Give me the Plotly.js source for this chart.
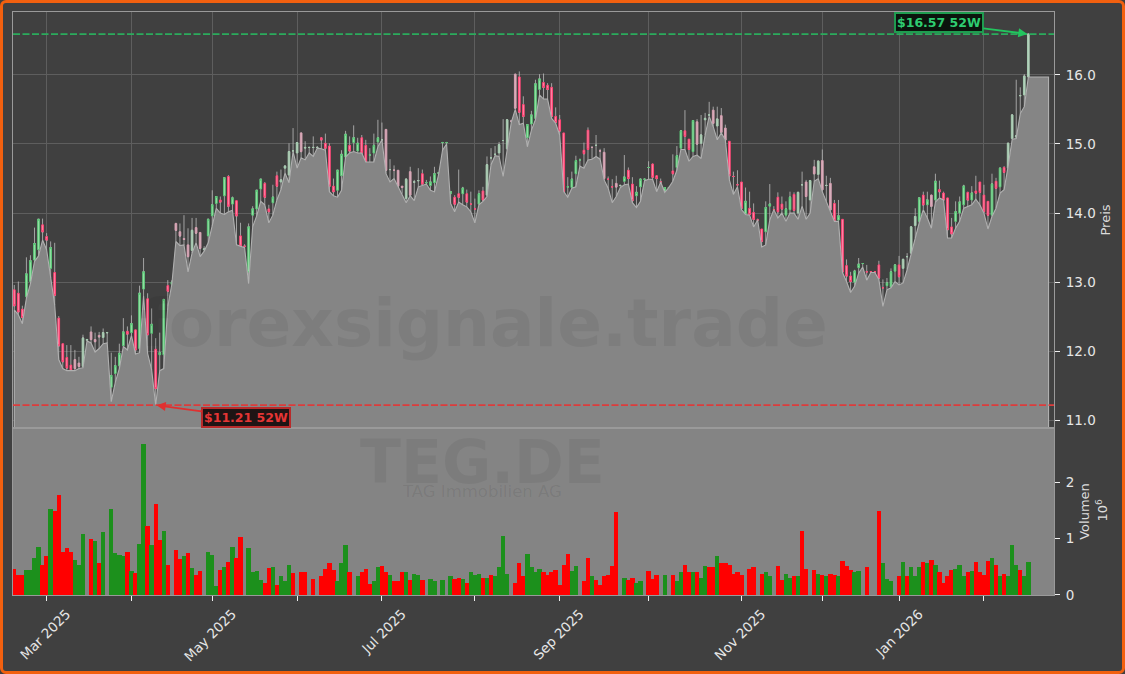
<!DOCTYPE html>
<html><head><meta charset="utf-8">
<script src="https://cdn.plot.ly/plotly-3.0.1.min.js"></script>
<style>
html,body{margin:0;padding:0;background:#404040;width:1125px;height:674px;overflow:hidden}
#chart{position:absolute;left:0;top:0;width:1125px;height:674px}
#frame{position:absolute;left:0;top:0;width:1125px;height:674px;box-sizing:border-box;border:3px solid #f2600f;border-radius:6px;pointer-events:none}
</style></head><body>
<div id="chart"></div><div id="frame"></div>
<script>
const open_=[12.89,12.84,12.61,12.79,13.01,13.32,13.47,13.83,13.66,13.20,
13.14,12.48,12.11,11.91,11.80,11.88,11.83,11.78,12.16,12.28,
12.17,12.23,12.20,12.27,11.48,11.68,11.79,12.08,12.29,12.27,
12.31,12.04,12.90,12.76,12.26,12.03,11.95,11.95,12.95,12.97,
13.85,13.73,13.63,13.54,13.46,13.79,13.72,13.47,13.67,13.96,
14.14,14.19,14.25,14.53,14.13,14.18,13.67,13.52,13.15,13.97,
14.06,14.35,14.43,14.06,14.15,14.54,14.45,14.65,14.55,14.90,
14.87,15.16,14.94,14.95,14.95,14.95,15.09,15.01,14.97,14.39,
14.33,14.54,14.81,14.98,15.02,14.90,15.09,14.98,14.84,14.87,
15.03,15.06,15.21,14.63,14.62,14.62,14.39,14.21,14.60,14.45,
14.47,14.57,14.44,14.40,14.44,14.58,15.02,15.02,14.28,14.23,
14.28,14.28,14.28,14.13,14.06,14.13,14.32,14.26,14.80,14.85,
14.87,15.05,14.93,15.33,16.01,15.97,15.57,15.09,15.29,15.37,
15.79,15.89,15.85,15.82,15.40,15.35,15.16,14.38,14.37,14.57,
14.77,14.91,15.20,14.95,14.98,14.90,14.88,14.49,14.38,14.43,
14.40,14.46,14.62,14.42,14.25,14.38,14.49,14.66,14.71,14.54,
14.45,14.30,14.37,14.61,14.66,14.94,15.19,15.07,14.89,15.32,
15.01,15.35,15.42,15.49,15.26,15.41,15.23,15.04,14.53,14.41,
14.45,13.99,14.07,14.01,13.90,13.77,13.73,14.10,14.05,14.23,
14.13,13.97,14.05,14.27,14.00,14.41,14.45,14.19,14.67,14.56,
14.76,14.40,14.43,14.14,13.90,13.91,13.24,13.09,13.00,13.21,
13.27,13.15,13.15,13.15,13.25,12.92,12.95,12.93,13.16,13.25,
13.20,13.37,13.42,13.82,13.88,14.26,14.12,14.26,14.19,14.34,
14.29,14.22,13.80,13.88,14.00,14.12,14.30,14.19,14.32,14.45,
14.26,14.17,13.97,14.46,14.38,14.66,14.65,15.08,15.10,15.70,
15.71,15.97];
const high_=[12.96,13.01,12.66,13.36,13.39,13.79,13.91,13.92,13.71,13.59,
13.57,12.51,12.11,12.09,12.09,12.02,11.92,12.24,12.18,12.36,
12.27,12.28,12.33,12.28,11.98,11.92,12.11,12.48,12.36,12.52,
12.31,12.95,13.35,12.84,12.62,12.19,12.27,12.76,13.03,13.03,
13.86,13.85,13.97,13.78,13.93,13.93,13.72,13.52,13.91,14.33,
14.24,14.24,14.51,14.55,14.24,14.18,13.86,13.55,13.85,14.10,
14.33,14.49,14.45,14.12,14.41,14.60,14.63,14.68,15.01,15.23,
15.02,15.17,15.04,14.96,15.11,14.97,15.10,15.15,15.01,14.50,
14.62,14.91,15.19,15.11,15.27,15.09,15.13,15.06,14.94,15.15,
15.35,15.31,15.22,14.78,14.69,14.62,14.39,14.50,14.67,14.48,
14.65,14.63,14.48,14.53,14.67,14.59,15.03,15.03,14.32,14.26,
14.63,14.38,14.34,14.31,14.21,14.33,14.38,14.82,14.94,14.97,
15.03,15.36,15.35,15.35,16.02,16.05,15.69,15.28,15.48,15.93,
16.01,16.02,15.88,15.88,15.53,15.42,15.16,14.52,14.60,14.83,
14.79,15.02,15.24,14.97,15.13,14.93,14.94,14.53,14.49,14.54,
14.41,14.84,14.66,14.52,14.39,14.50,14.50,14.75,14.72,14.55,
14.50,14.37,14.38,14.85,14.97,15.20,15.49,15.07,15.34,15.36,
15.42,15.45,15.61,15.54,15.54,15.52,15.28,15.04,14.60,14.62,
14.45,14.37,14.31,14.14,13.92,13.77,14.17,14.42,14.10,14.30,
14.24,14.17,14.31,14.30,14.30,14.60,14.48,14.48,14.77,14.76,
14.92,14.54,14.51,14.19,14.19,13.91,13.33,13.15,13.18,13.35,
13.27,13.25,13.16,13.16,13.31,13.04,13.06,13.20,13.25,13.38,
13.33,13.42,13.80,14.07,14.22,14.31,14.31,14.27,14.57,14.47,
14.31,14.22,13.93,14.17,14.24,14.41,14.31,14.39,14.54,14.45,
14.41,14.17,14.57,14.51,14.65,14.68,15.01,15.42,15.93,15.82,
16.01,16.59];
const low_=[12.60,12.53,12.40,12.77,12.98,13.30,13.38,13.61,13.47,13.06,
12.67,11.88,11.75,11.72,11.72,11.72,11.75,11.76,12.15,12.12,
11.99,12.04,12.11,12.12,11.27,11.55,11.75,12.07,12.02,12.23,
11.96,11.98,12.80,11.97,11.73,11.22,11.72,11.75,12.65,12.97,
13.59,13.53,13.54,13.15,13.42,13.57,13.37,13.45,13.57,13.81,
14.07,14.00,13.98,14.02,14.04,13.54,13.52,13.50,12.98,13.80,
13.96,14.17,14.12,13.86,13.97,14.19,14.34,14.58,14.44,14.89,
14.65,14.80,14.77,14.87,14.82,14.94,14.93,14.91,14.31,14.25,
14.23,14.33,14.81,14.87,14.89,14.87,14.87,14.74,14.74,14.74,
14.96,15.06,14.57,14.45,14.50,14.38,14.28,14.15,14.25,14.18,
14.38,14.40,14.42,14.33,14.31,14.55,14.91,15.00,14.14,14.02,
14.16,14.12,14.09,14.02,13.86,14.12,14.17,14.24,14.70,14.83,
14.82,14.53,14.91,15.31,15.50,15.28,15.30,14.96,15.20,15.35,
15.71,15.65,15.65,15.37,15.30,15.13,14.31,14.23,14.36,14.38,
14.68,14.65,14.77,14.78,14.82,14.78,14.48,14.36,14.15,14.24,
14.37,14.41,14.42,14.15,14.08,14.17,14.47,14.49,14.49,14.31,
14.45,14.30,14.37,14.46,14.62,14.92,14.92,14.75,14.82,14.84,
14.79,15.13,15.40,15.25,15.06,15.16,15.06,14.48,14.27,14.38,
14.05,13.98,13.97,13.80,13.90,13.51,13.54,13.90,14.05,13.93,
14.00,13.88,14.00,14.00,13.91,14.10,13.91,14.00,14.46,14.50,
14.31,14.17,14.02,13.88,13.88,13.14,13.01,12.85,12.94,13.13,
13.22,13.03,13.14,13.14,13.04,12.65,12.89,12.92,13.01,12.96,
12.99,13.18,13.41,13.64,13.86,14.05,13.93,13.78,14.16,14.22,
14.19,13.64,13.64,13.78,13.88,14.07,14.09,14.12,14.20,14.12,
14.00,13.77,13.95,14.07,14.29,14.34,14.68,15.07,15.08,15.44,
15.54,15.97];
const close_=[12.66,12.57,12.49,13.12,13.31,13.56,13.91,13.73,13.61,13.50,
12.81,12.08,11.85,11.76,11.73,11.75,11.78,12.19,12.17,12.17,
12.14,12.21,12.27,12.27,11.65,11.79,11.97,12.28,12.25,12.40,
12.02,12.84,13.15,12.24,12.39,11.46,11.98,12.75,12.87,13.00,
13.75,13.67,13.62,13.37,13.75,13.71,13.49,13.48,13.91,14.12,
14.24,14.16,14.51,14.10,14.22,13.96,13.52,13.52,13.80,14.06,
14.33,14.49,14.23,14.02,14.23,14.39,14.48,14.68,14.89,14.90,
15.02,14.89,14.95,14.95,14.95,14.95,15.06,14.94,14.39,14.31,
14.62,14.85,15.14,14.90,15.09,15.01,14.87,14.74,14.84,14.98,
15.09,15.06,14.62,14.63,14.62,14.39,14.37,14.49,14.26,14.45,
14.47,14.42,14.44,14.45,14.57,14.58,15.02,15.02,14.31,14.13,
14.23,14.36,14.16,14.13,14.06,14.28,14.19,14.70,14.80,14.85,
14.99,15.05,15.35,15.33,15.52,15.46,15.40,15.28,15.42,15.87,
15.94,15.82,15.79,15.40,15.31,15.19,14.31,14.38,14.49,14.76,
14.77,14.86,14.92,14.95,14.98,14.90,14.50,14.49,14.38,14.38,
14.40,14.52,14.50,14.18,14.30,14.49,14.49,14.66,14.52,14.50,
14.45,14.37,14.37,14.57,14.83,15.19,15.11,14.92,15.34,15.00,
15.13,15.37,15.42,15.30,15.36,15.17,15.06,14.54,14.53,14.41,
14.07,14.17,13.98,13.91,13.90,13.59,14.08,14.13,14.05,14.02,
14.06,14.06,14.23,14.04,14.30,14.41,14.24,14.47,14.57,14.75,
14.34,14.40,14.05,13.89,13.96,13.15,13.09,13.01,13.16,13.26,
13.27,13.15,13.15,13.15,13.06,12.92,12.99,13.15,13.25,13.08,
13.33,13.37,13.80,13.95,14.22,14.12,14.19,14.10,14.46,14.31,
14.19,13.76,13.70,14.02,14.16,14.39,14.19,14.29,14.29,14.30,
14.02,13.97,14.42,14.36,14.65,14.59,15.01,15.42,15.12,15.70,
15.98,16.59];
const volume=[.46,.36,.36,.44,.44,.65,.85,.53,.70,1.52,
1.50,1.78,.76,.83,.76,.63,.53,1.08,0,.99,
.96,.56,1.12,0,1.52,.74,.71,.69,.76,.43,
.39,.90,2.68,1.22,.89,1.61,.98,1.13,.53,0,
.80,.64,.70,.75,.48,.36,.43,0,.76,.71,
.16,.44,.50,.59,.85,.66,1.03,0,.83,.41,
.43,.27,.21,.48,.50,.18,.34,.25,.54,.39,
0,.40,.41,0,.29,0,.34,.47,.57,.45,
.25,.57,.88,.41,0,.33,.41,.47,.20,.25,
.50,.52,.41,.36,.25,.25,.40,.40,.27,.38,
.36,.27,0,.29,.25,0,.27,0,.33,.29,
.31,.29,.22,.40,.36,.38,.31,.31,.36,.34,
.49,1.05,.38,0,.22,.56,.34,.73,.50,.41,
.47,.41,.36,.40,.45,.18,.54,.72,.43,.52,
0,.24,.66,.33,.27,.18,.33,.36,.52,1.48,
0,.31,.27,.31,.22,.24,0,.43,.29,.36,
0,.36,0,.36,.24,.41,.54,.41,.40,.40,
.31,.52,.50,.49,.70,.56,.57,.54,.38,.41,
.36,0,.47,.50,0,.38,.41,.33,0,.52,
.27,.38,.31,.33,.34,1.14,.47,0,.45,.38,
.36,.33,.38,.36,.33,.61,.52,.45,.40,.43,
0,.49,0,0,1.50,.57,.29,.25,0,.34,
.59,.34,.49,.33,.50,.59,.57,.63,.54,.40,
.22,.33,.45,.47,.54,.34,.41,.43,.59,.41,
.36,.61,.65,.54,.33,.38,.34,.89,.54,.45,
.34,.59];
const volumeSide=("rrrggggrrgrrrrrgggrrgrgrggggrgrggrgrrgrrrrgrgrrrgg"+
"grgrgrrrggggrrgrgggr"+"rrrrrrrrrrgggrrgrrrggrrgrrrgrg"+"grrggrgrgr"+"rgrgggrgrg"+
"gggrrrrggg"+"grrrrrrrgg"+"rrrgrrrrrr"+"rgrrggrrrr"+"rgrrggrrgr"+"ggrrgrrrrr"+
"rrrrrrggrr"+"rggrgrrrrg"+"rgrrgrrrgg"+"rrrrrgggrr"+"grgggrgrgr"+"rrrgggrgrr"+"rrgrgrgggr"+"gg").split('');
const tailLow=[15.97,15.97,15.97,15.97,15.97];
const paleRanges=[[15,23],[40,47],[66,75],[91,100],[117,124],[143,146],[149,150],[169,176],[194,202],[220,223],[227,227],[246,251]];
const tickIndex=[8,29,49,70,91,114,135,157,180,200,219,240];
const tickLabels=['Mar 2025','','May 2025','','Jul 2025','','Sep 2025','','Nov 2025','','Jan 2026',''];
const priceTicks=[11,12,13,14,15,16];
const volumeTicks=[0,1,2];
const high52=16.59, low52=11.22;
const priceFloor=10.895;

const idx=open_.map((_,i)=>i);
const isPale=i=>paleRanges.some(r=>i>=r[0]&&i<=r[1]);
const allLow=low_.concat(tailLow);
const allIdx=allLow.map((_,i)=>i);
const last=allIdx[allIdx.length-1];

const areaTrace={type:'scatter',mode:'lines',x:allIdx.concat([last,0,0]),y:allLow.concat([priceFloor,priceFloor,allLow[0]]),
 fill:'toself',fillcolor:'#858585',line:{color:'#b0b0b0',width:1.1},hoverinfo:'skip',showlegend:false,xaxis:'x',yaxis:'y'};
const wickTrace={type:'candlestick',x:idx,open:close_,close:close_,high:high_,low:low_,whiskerwidth:0,
 increasing:{line:{color:'#bcbcbc',width:0.8},fillcolor:'#bcbcbc'},decreasing:{line:{color:'#bcbcbc',width:0.8},fillcolor:'#bcbcbc'},
 hoverinfo:'skip',showlegend:false,xaxis:'x',yaxis:'y'};
function bodyTrace(sel,upLine,upFill,downLine,downFill){
 const ii=idx.filter(sel);
 return {type:'candlestick',x:ii,open:ii.map(i=>open_[i]),close:ii.map(i=>close_[i]),
  high:ii.map(i=>Math.max(open_[i],close_[i])),low:ii.map(i=>Math.min(open_[i],close_[i])),whiskerwidth:0,
  increasing:{line:{color:upLine,width:1},fillcolor:upFill},decreasing:{line:{color:downLine,width:1},fillcolor:downFill},
  showlegend:false,xaxis:'x',yaxis:'y'};
}
const bodyA=bodyTrace(i=>!isPale(i),'#5cc878','#a8e6b4','#ff4474','#ff9ab5');
const bodyB=bodyTrace(isPale,'#a4c9ae','#bcd4c2','#d59fb0','#d9b4c0');
const volumeTrace={type:'bar',x:idx,y:volume,marker:{color:volumeSide.map(s=>s==='r'?'#ff0000':'#1c901c'),line:{width:0}},width:1.08,
 showlegend:false,xaxis:'x2',yaxis:'y2'};

const txt='#e6e6e6', font='"DejaVu Sans",sans-serif';
const xr=[-0.32,257.35];
const axisBase={linecolor:'#9a9a9a',linewidth:1,showline:true,mirror:true,zeroline:false};
const layout={
 width:1125,height:674,paper_bgcolor:'#404040',plot_bgcolor:'#404040',
 margin:{l:13,r:71,t:12,b:79,pad:0},showlegend:false,bargap:0,barmode:'overlay',boxgap:0.4,
 font:{family:font,color:txt,size:13},
 xaxis:Object.assign({},axisBase,{domain:[0,1],range:xr,anchor:'y',rangeslider:{visible:false},tickmode:'array',tickvals:tickIndex,ticktext:tickIndex.map(()=>''),
   showgrid:true,gridcolor:'#5e5e5e',gridwidth:1,ticks:''}),
 xaxis2:Object.assign({},axisBase,{domain:[0,1],range:xr,anchor:'y2',tickmode:'array',tickvals:tickIndex,ticktext:tickLabels,tickangle:-45,
   ticklabeloverflow:'allow',ticklabelshift:20,
   showgrid:false,ticks:'outside',ticklen:5,tickcolor:'#f0f0f0',tickfont:{size:13.5,color:txt,family:font}}),
 yaxis:Object.assign({},axisBase,{domain:[0.28645,1],range:[10.89,16.91],side:'right',anchor:'x',tickmode:'array',tickvals:priceTicks,ticktext:priceTicks.map(v=>v.toFixed(1)),
   showgrid:true,gridcolor:'#5e5e5e',gridwidth:1,ticks:'outside',ticklen:5,ticklabelstandoff:3,tickcolor:'#f0f0f0',tickfont:{size:13.5,color:txt,family:font},
   title:{text:'Preis',font:{size:13,color:'#dcdcdc',family:font},standoff:6}}),
 yaxis2:Object.assign({},axisBase,{domain:[0,0.28645],range:[0,2.966],side:'right',anchor:'x2',tickmode:'array',tickvals:volumeTicks,ticktext:volumeTicks.map(String),
   showgrid:false,ticks:'outside',ticklen:5,ticklabelstandoff:3,tickcolor:'#f0f0f0',tickfont:{size:13.5,color:txt,family:font},
   title:{text:'Volumen',font:{size:13,color:'#dcdcdc',family:font},standoff:6}}),
 shapes:[
  {type:'rect',xref:'x2 domain',yref:'y2 domain',x0:0,x1:1,y0:0,y1:1,fillcolor:'#848484',line:{width:0},layer:'below'},
  {type:'line',xref:'x domain',yref:'y',x0:0,x1:1,y0:high52,y1:high52,line:{color:'#2bab5c',width:1.8,dash:'7px,2.5px'}},
  {type:'line',xref:'x domain',yref:'y',x0:0,x1:1,y0:low52,y1:low52,line:{color:'#dc3c3c',width:1.8,dash:'7px,2.5px'}}
 ],
 annotations:[
  {xref:'paper',yref:'paper',x:0.4525,y:0.3965,text:'forexsignale.trade',showarrow:false,xanchor:'center',yanchor:'bottom',font:{family:font,size:66,weight:700,color:'rgba(0,0,0,0.06)'}},
  {xref:'paper',yref:'paper',x:0.451,y:0.164,text:'TEG.DE',showarrow:false,xanchor:'center',yanchor:'bottom',font:{family:font,size:60,weight:700,color:'rgba(0,0,0,0.06)'}},
  {xref:'paper',yref:'paper',x:0.451,y:0.158,text:'TAG Immobilien AG',showarrow:false,xanchor:'center',yanchor:'bottom',font:{family:font,size:16.5,color:'rgba(0,0,0,0.08)'}},
  {xref:'paper',yref:'paper',x:1.0,xshift:48,y:0.145,text:'10<sup>6</sup>',textangle:-90,showarrow:false,xanchor:'center',yanchor:'middle',font:{family:font,size:13,color:'#dcdcdc'}},
  {xref:'x',yref:'y',x:idx[251],y:high52,ax:-89,ay:-11.5,text:'<b>$16.57 52W</b>',showarrow:true,arrowhead:2,arrowsize:1,arrowwidth:1.8,arrowcolor:'#22c55e',standoff:1,
    bgcolor:'rgba(5,15,8,0.9)',bordercolor:'#1f9c50',borderwidth:2,borderpad:1,font:{family:font,size:12.5,color:'#2ecc71'}},
  {xref:'x',yref:'y',x:idx[35],y:low52,ax:90,ay:12,text:'<b>$11.21 52W</b>',showarrow:true,arrowhead:2,arrowsize:1,arrowwidth:1.8,arrowcolor:'#e03030',standoff:1,
    bgcolor:'rgba(20,8,8,0.9)',bordercolor:'#b92a2a',borderwidth:2,borderpad:1,font:{family:font,size:12.5,color:'#e53535'}}
 ]
};
Plotly.newPlot('chart',[areaTrace,wickTrace,bodyA,bodyB,volumeTrace],layout,{displayModeBar:false,staticPlot:true});
</script></body></html>
